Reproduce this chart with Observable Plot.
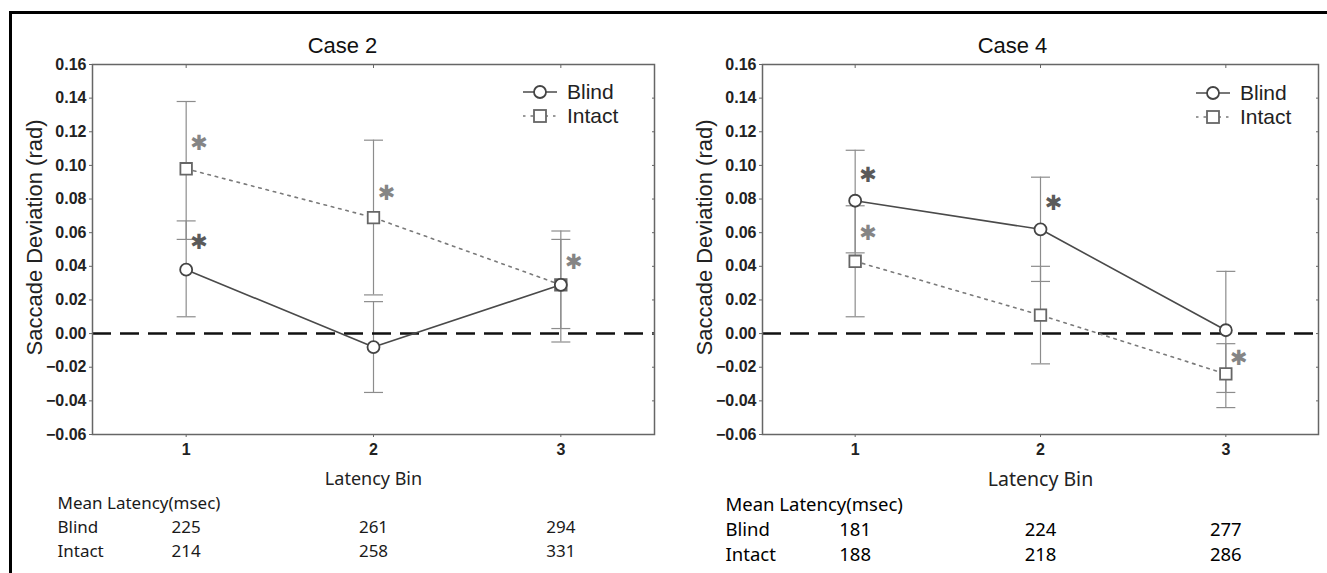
<!DOCTYPE html>
<html>
<head>
<meta charset="utf-8">
<script src="https://cdn.jsdelivr.net/npm/d3@7"></script>
<script src="https://cdn.jsdelivr.net/npm/@observablehq/plot@0.6"></script>
<style>
  html, body { margin: 0; padding: 0; background: #fff; }
  #root { position: relative; width: 1327px; height: 573px; overflow: hidden; background: #fff; }
  #outer { position: absolute; left: 9px; top: 11px; width: 1330px; height: 600px;
           border-left: 3px solid #000; border-top: 3px solid #000; box-sizing: border-box; }
  .panel { position: absolute; top: 0; height: 573px; }
  .panel svg { display: block; }
  .legend { position: absolute; top: 0; left: 0; pointer-events: none; }
</style>
</head>
<body>
<div id="root">
  <div id="outer"></div>
  <div class="panel" id="p1" style="left:0px;width:660px;"></div>
  <div class="panel" id="p2" style="left:670px;width:657px;"></div>
</div>
<script>
// ---------- data ----------
const bins = [1, 2, 3];
const yTicks = [-0.06, -0.04, -0.02, 0, 0.02, 0.04, 0.06, 0.08, 0.10, 0.12, 0.14, 0.16];

const case2Title = "Case 2";
const case2BlindMean = [0.038, -0.008, 0.029];
const case2BlindLow = [0.010, -0.035, 0.003];
const case2BlindHigh = [0.067, 0.019, 0.056];
const case2IntactMean = [0.098, 0.069, 0.029];
const case2IntactLow = [0.056, 0.023, -0.005];
const case2IntactHigh = [0.138, 0.115, 0.061];
const case2StarBin = [1, 1, 2, 3];
const case2StarY = [0.114, 0.055, 0.084, 0.043];
const case2StarGroup = ["Intact", "Blind", "Intact", "Intact"];
const case2LatBlind = [225, 261, 294];
const case2LatIntact = [214, 258, 331];

const case4Title = "Case 4";
const case4BlindMean = [0.079, 0.062, 0.002];
const case4BlindLow = [0.048, 0.031, -0.035];
const case4BlindHigh = [0.109, 0.093, 0.037];
const case4IntactMean = [0.043, 0.011, -0.024];
const case4IntactLow = [0.010, -0.018, -0.044];
const case4IntactHigh = [0.076, 0.040, -0.006];
const case4StarBin = [1, 1, 2, 3];
const case4StarY = [0.095, 0.060, 0.078, -0.014];
const case4StarGroup = ["Blind", "Intact", "Blind", "Intact"];
const case4LatBlind = [181, 224, 277];
const case4LatIntact = [188, 218, 286];

const groups = ["Blind", "Intact"];
const tableTitle = "Mean Latency(msec)";
const xLabel = "Latency Bin";
const yLabel = "Saccade Deviation (rad)";

// ---------- styles ----------
const AX = "'Liberation Sans', Arial, Helvetica, sans-serif";
const TB = "'Noto Sans', 'Open Sans', sans-serif";
const blindStroke = "#4a4a4a";
const intactStroke = "#7a7a7a";
const errStroke = "#8c8c8c";
const starColor = {Blind: "#5a5a5a", Intact: "#858585"};

const capSymbol = {
  draw(ctx, size) {
    const w = Math.sqrt(size / Math.PI);
    ctx.moveTo(-w, 0);
    ctx.lineTo(w, 0);
  }
};

function rows(mean, low, high) {
  return bins.map((b, i) => ({bin: b, mean: mean[i], low: low[i], high: high[i]}));
}

function panel(el, cfg) {
  const blind = rows(cfg.blindMean, cfg.blindLow, cfg.blindHigh);
  const intact = rows(cfg.intactMean, cfg.intactLow, cfg.intactHigh);
  const stars = cfg.starBin.map((b, i) => ({bin: b, y: cfg.starY[i], g: cfg.starGroup[i]}));
  const caps = [...blind, ...intact].flatMap(d => [{bin: d.bin, v: d.low}, {bin: d.bin, v: d.high}]);
  const t = cfg.table;

  const plot = Plot.plot({
    width: cfg.width,
    height: 573,
    marginLeft: 92,
    marginRight: cfg.marginRight,
    marginTop: 64,
    marginBottom: 139,
    x: {domain: [0.5, 3.5]},
    y: {domain: [-0.06, 0.16]},
    style: {fontFamily: AX, background: "transparent", overflow: "visible", color: "#222"},
    marks: [
      // error bars
      Plot.ruleX([...blind, ...intact], {x: "bin", y1: "low", y2: "high", stroke: errStroke, strokeWidth: 1.2}),
      Plot.dot(caps, {x: "bin", y: "v", symbol: capSymbol, r: 9.5, stroke: errStroke, strokeWidth: 1.2}),
      // zero reference
      Plot.ruleY([0], {stroke: "#111", strokeWidth: 2.5, strokeDasharray: "19,9"}),
      // series lines
      Plot.line(intact, {x: "bin", y: "mean", stroke: intactStroke, strokeWidth: 1.6, strokeDasharray: "2.5,5"}),
      Plot.line(blind, {x: "bin", y: "mean", stroke: blindStroke, strokeWidth: 1.6}),
      Plot.dot(intact, {x: "bin", y: "mean", symbol: "square", r: 6.5, fill: "white", stroke: "#666", strokeWidth: 1.8}),
      Plot.dot(blind, {x: "bin", y: "mean", symbol: "circle", r: 6, fill: "white", stroke: "#444", strokeWidth: 1.8}),
      // significance stars
      Plot.text(stars, {x: "bin", y: "y", text: () => "\u2731", dx: 13, dy: 1, fontSize: 21, fontFamily: "'DejaVu Sans', sans-serif",
        fill: d => starColor[d.g], textAnchor: "middle", lineAnchor: "middle"}),
      // frame + axes
      Plot.frame({stroke: "#666", strokeWidth: 1.5}),
      Plot.axisY({ticks: yTicks, tickFormat: d3.format(".2f"), tickSize: 3, tickPadding: 3, fontSize: 16,
        fontWeight: "bold", stroke: "#666", fill: "#222", label: null}),
      Plot.axisY({anchor: "right", ticks: yTicks, tickSize: -3, tickFormat: () => "", stroke: "#666", label: null}),
      Plot.axisX({ticks: bins, tickFormat: d3.format("d"), tickSize: 3, tickPadding: 6, fontSize: 16,
        fontWeight: "bold", stroke: "#666", fill: "#222", label: null}),
      Plot.axisX({anchor: "top", ticks: bins, tickSize: -3, tickFormat: () => "", stroke: "#666", label: null}),
      // titles
      Plot.text([cfg.title], {frameAnchor: "top-left", dx: 250, dy: -19, textAnchor: "middle", lineAnchor: "middle",
        fontSize: 22, fill: "#111"}),
      Plot.text([yLabel], {frameAnchor: "left", dx: -58, dy: -12, rotate: -90, textAnchor: "middle", lineAnchor: "middle",
        fontSize: 22, fill: "#222"}),
      Plot.text([xLabel], {frameAnchor: "bottom", dy: 45, textAnchor: "middle", lineAnchor: "middle",
        fontSize: t.fs + 1, fontFamily: TB, fill: "#222"}),
      // latency table
      Plot.text([tableTitle], {frameAnchor: "bottom-left", dx: t.dx, dy: t.rows[0], textAnchor: "start", lineAnchor: "middle",
        fontSize: t.fs, fontFamily: TB, fill: t.color}),
      Plot.text(groups, {frameAnchor: "bottom-left", dx: t.dx, dy: t.rows[1], textAnchor: "start", lineAnchor: "middle",
        fontSize: t.fs, fontFamily: TB, fill: t.color, filter: d => d === "Blind"}),
      Plot.text(groups, {frameAnchor: "bottom-left", dx: t.dx, dy: t.rows[2], textAnchor: "start", lineAnchor: "middle",
        fontSize: t.fs, fontFamily: TB, fill: t.color, filter: d => d === "Intact"}),
      Plot.text(bins, {x: d => d, text: (d, i) => String(cfg.latBlind[i]), frameAnchor: "bottom", dy: t.rows[1],
        textAnchor: "middle", lineAnchor: "middle", fontSize: t.fs, fontFamily: TB, fill: t.color}),
      Plot.text(bins, {x: d => d, text: (d, i) => String(cfg.latIntact[i]), frameAnchor: "bottom", dy: t.rows[2],
        textAnchor: "middle", lineAnchor: "middle", fontSize: t.fs, fontFamily: TB, fill: t.color})
    ]
  });
  el.appendChild(plot);

  // legend (drawn in the panel's coordinate space)
  const lg = d3.select(el).append("svg").attr("class", "legend")
    .attr("width", cfg.width).attr("height", 573);
  const L = cfg.legend;
  lg.append("line").attr("x1", L.x - 17).attr("x2", L.x + 17).attr("y1", L.y).attr("y2", L.y)
    .attr("stroke", blindStroke).attr("stroke-width", 1.6);
  lg.append("circle").attr("cx", L.x).attr("cy", L.y).attr("r", 6).attr("fill", "white")
    .attr("stroke", "#444").attr("stroke-width", 1.8);
  lg.append("line").attr("x1", L.x - 17).attr("x2", L.x + 17).attr("y1", L.y + 24).attr("y2", L.y + 24)
    .attr("stroke", intactStroke).attr("stroke-width", 1.6).attr("stroke-dasharray", "2.5,5");
  lg.append("rect").attr("x", L.x - 6).attr("y", L.y + 24 - 6).attr("width", 12).attr("height", 12)
    .attr("fill", "white").attr("stroke", "#666").attr("stroke-width", 1.8);
  groups.forEach((g, i) => {
    lg.append("text").attr("x", L.x + 27).attr("y", L.y + i * 24).attr("dy", "0.35em")
      .attr("font-family", AX).attr("font-size", 21).attr("fill", "#222").text(g);
  });
}

panel(document.getElementById("p1"), {
  width: 660, marginRight: 6, title: case2Title,
  blindMean: case2BlindMean, blindLow: case2BlindLow, blindHigh: case2BlindHigh,
  intactMean: case2IntactMean, intactLow: case2IntactLow, intactHigh: case2IntactHigh,
  starBin: case2StarBin, starY: case2StarY, starGroup: case2StarGroup,
  latBlind: case2LatBlind, latIntact: case2LatIntact,
  table: {dx: -35, rows: [69, 93, 117], fs: 17, color: "#1a1a1a"},
  legend: {x: 540, y: 92}
});

panel(document.getElementById("p2"), {
  width: 657, marginRight: 9, title: case4Title,
  blindMean: case4BlindMean, blindLow: case4BlindLow, blindHigh: case4BlindHigh,
  intactMean: case4IntactMean, intactLow: case4IntactLow, intactHigh: case4IntactHigh,
  starBin: case4StarBin, starY: case4StarY, starGroup: case4StarGroup,
  latBlind: case4LatBlind, latIntact: case4LatIntact,
  table: {dx: -37, rows: [71, 96, 121], fs: 18.5, color: "#000"},
  legend: {x: 1213 - 670, y: 93}
});
</script>
</body>
</html>
